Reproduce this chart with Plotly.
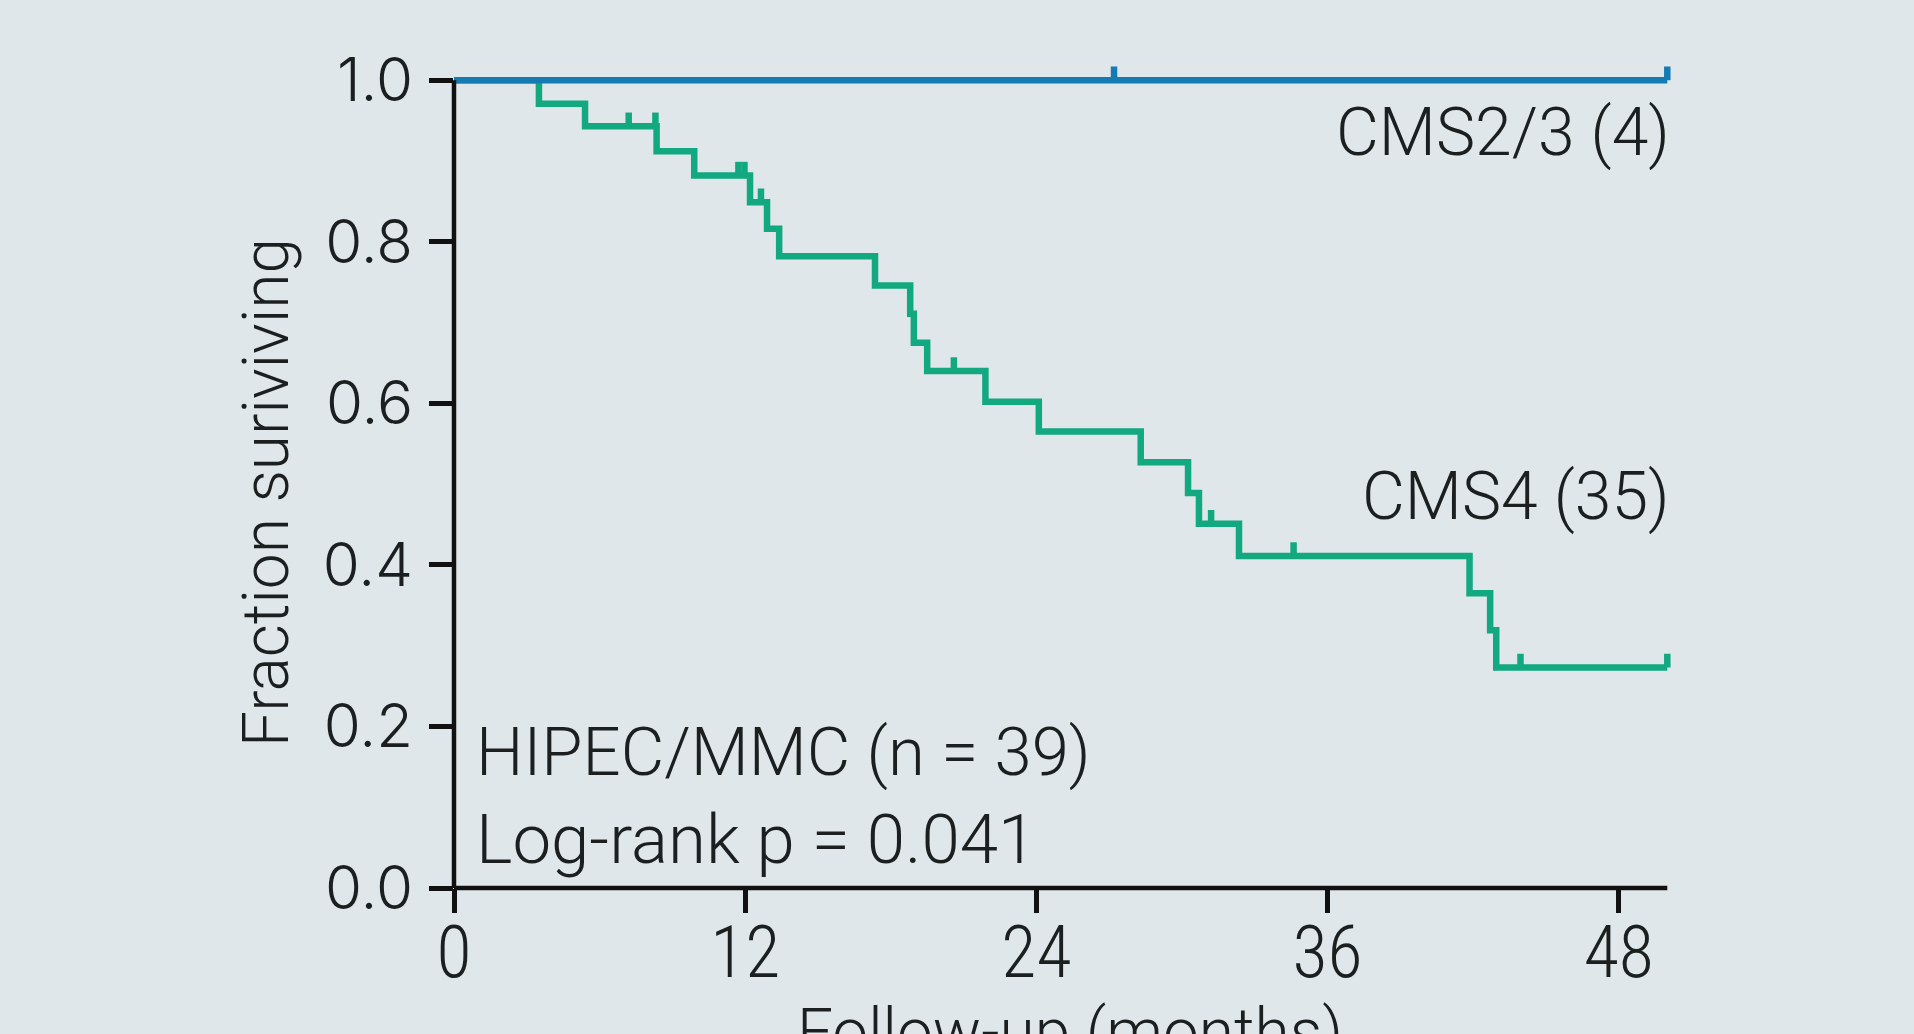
import numpy as np
import plotly.graph_objects as go

# ---------------- data ----------------
# CMS4 (n = 35): Kaplan-Meier step points (months, fraction surviving)
cms4_times = [0, 3.5, 5.4, 8.35, 9.9, 12.2, 12.9, 13.4, 17.35, 18.8, 18.95, 19.5,
              21.9, 24.1, 28.3, 30.25, 30.7, 32.35, 41.85, 42.7, 42.95, 50]
cms4_surv = [1.0, 0.971, 0.943, 0.912, 0.882, 0.849, 0.816, 0.782, 0.746, 0.711, 0.675, 0.640,
             0.602, 0.565, 0.527, 0.489, 0.451, 0.411, 0.365, 0.319, 0.273, 0.273]
cms4_censored = [7.2, 8.3, 11.72, 11.97, 12.65, 20.6, 31.2, 34.6, 43.95, 50]

# CMS2/3 (n = 4): no events
cms23_times = [0, 50]
cms23_surv = [1.0, 1.0]
cms23_censored = [27.2, 50]

x_ticks = [0, 12, 24, 36, 48]
y_ticks = [0.0, 0.2, 0.4, 0.6, 0.8, 1.0]
y_tick_text = ["0.0", "0.2", "0.4", "0.6", "0.8", "1.0"]

# ---------------- style ----------------
BG = "#dfe7ea"
BLUE = "#167bb2"
GREEN = "#12a880"
INK = "#1b1f1f"
AXIS = "#111111"
LW = 6.5
TICK_H = 0.017  # censor tick height (fraction units)
TEXT_FONT = "Roboto, Liberation Sans, Arial, sans-serif"
YTICK_FONT = "Inter, Open Sans, Roboto, Liberation Sans, sans-serif"
COND_FONT = "Liberation Sans Narrow, Roboto Condensed, DejaVu Sans Condensed, Liberation Sans, sans-serif"

W, H = 1914, 1034
L, R, T, B = 454, 237, 56, 146
X_MAX, Y_MAX = 50.4, 1.03


def surv_at(times, surv, t):
    i = int(np.searchsorted(np.asarray(times), t, side="right")) - 1
    return surv[max(i, 0)]


def censor_segments(times, surv, cens):
    xs, ys = [], []
    for t in cens:
        s = surv_at(times, surv, t)
        xs += [t, t, None]
        ys += [s, s + TICK_H, None]
    return xs, ys


fig = go.Figure()

# CMS4 curve
fig.add_trace(go.Scatter(x=cms4_times, y=cms4_surv, mode="lines", line_shape="hv",
                         line=dict(color=GREEN, width=LW), hoverinfo="skip", showlegend=False))
cx, cy = censor_segments(cms4_times, cms4_surv, cms4_censored)
fig.add_trace(go.Scatter(x=cx, y=cy, mode="lines", line=dict(color=GREEN, width=LW),
                         hoverinfo="skip", showlegend=False))

# CMS2/3 curve (drawn on top)
fig.add_trace(go.Scatter(x=cms23_times, y=cms23_surv, mode="lines", line_shape="hv",
                         line=dict(color=BLUE, width=LW), hoverinfo="skip", showlegend=False))
bx, by = censor_segments(cms23_times, cms23_surv, cms23_censored)
fig.add_trace(go.Scatter(x=bx, y=by, mode="lines", line=dict(color=BLUE, width=LW),
                         hoverinfo="skip", showlegend=False))

# axis lines as shapes (paper refs on the crossing dimension so they are not clipped)
fig.add_shape(type="line", xref="x", yref="paper", x0=0, x1=50, y0=0, y1=0,
              line=dict(color=AXIS, width=4.5), layer="above")
fig.add_shape(type="line", xref="paper", yref="y", x0=0, x1=0, y0=0, y1=1.0,
              line=dict(color=AXIS, width=4.5), layer="above")

pw = W - L - R
ph = H - T - B


def px_x(p):
    return (p - L) / pw


def px_y(p):
    return (H - B - p) / ph


ann = []
ann.append(dict(text="CMS2/3 (4)", x=px_x(1672), y=px_y(133), xanchor="right", yanchor="middle", size=66))
ann.append(dict(text="CMS4 (35)", x=px_x(1672), y=px_y(497), xanchor="right", yanchor="middle", size=66))
ann.append(dict(text="HIPEC/MMC (n = 39)", x=px_x(474), y=px_y(752), xanchor="left", yanchor="middle", size=67))
ann.append(dict(text="Log-rank p = 0.041", x=px_x(474), y=px_y(839), xanchor="left", yanchor="middle", size=69))
ann.append(dict(text="Follow-up (months)", x=px_x(1070), y=px_y(1032), xanchor="center", yanchor="middle", size=64))
ann.append(dict(text="Fraction suriviving", x=px_x(266), y=px_y(493), xanchor="center", yanchor="middle",
                textangle=-90, size=64))
annotations = []
for a in ann:
    size = a.pop("size")
    a.update(xref="paper", yref="paper", showarrow=False,
             font=dict(family=TEXT_FONT, size=size, color=INK, weight=300))
    annotations.append(a)

fig.update_layout(
    width=W, height=H, autosize=False,
    margin=dict(l=L, r=R, t=T, b=B, pad=0),
    paper_bgcolor=BG, plot_bgcolor=BG,
    showlegend=False,
    annotations=annotations,
    xaxis=dict(range=[0, X_MAX], showgrid=False, zeroline=False, showline=False,
               tickmode="array", tickvals=x_ticks, ticktext=[str(v) for v in x_ticks],
               ticks="outside", ticklen=24, tickwidth=5, tickcolor=AXIS,
               ticklabelstandoff=-22,
               tickfont=dict(family=COND_FONT, size=72, color=INK, weight=300),
               automargin=False, fixedrange=True),
    yaxis=dict(range=[0, Y_MAX], showgrid=False, zeroline=False, showline=False,
               tickmode="array", tickvals=y_ticks, ticktext=y_tick_text,
               ticks="outside", ticklen=24, tickwidth=5, tickcolor=AXIS,
               ticklabelstandoff=4,
               tickfont=dict(family=YTICK_FONT, size=60, color=INK, weight=300),
               automargin=False, fixedrange=True),
)

fig.write_html("out.html", config={"displayModeBar": False},
               post_script="document.body.style.margin='0';document.body.style.overflow='hidden';")
